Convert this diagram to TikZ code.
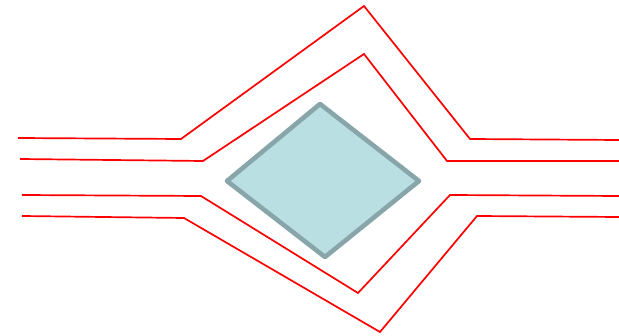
\documentclass[tikz,border=0pt]{standalone}
\usepackage{xcolor}
\usepackage{tikz}
\definecolor{flowred}{HTML}{FF0000}
\definecolor{bodyfill}{HTML}{B9DFE3}
\definecolor{bodyedge}{HTML}{88A6A9}

\begin{document}
\begin{tikzpicture}[
  x=1pt, y=-1pt,
  streamline/.style={draw=flowred, line width=1.7pt, line join=miter},
  obstacle/.style={draw=bodyedge, fill=bodyfill, line width=4.6pt, line join=round},
]
  \useasboundingbox (0,0) rectangle (619,336);

  % obstacle
  \path[obstacle] (227,181) -- (320,104) -- (419,181) -- (325,257) -- cycle;

  % streamlines above
  \draw[streamline] (18,138) -- (181,139) -- (364,6) -- (470,139) -- (619,140);
  \draw[streamline] (20,159) -- (203,161) -- (364,54) -- (447,161) -- (619,161);
  % streamlines below
  \draw[streamline] (22,195) -- (201,196) -- (358,293) -- (450,195) -- (619,196);
  \draw[streamline] (22,216) -- (184,218) -- (380,332) -- (477,216) -- (619,217);
\end{tikzpicture}
\end{document}
